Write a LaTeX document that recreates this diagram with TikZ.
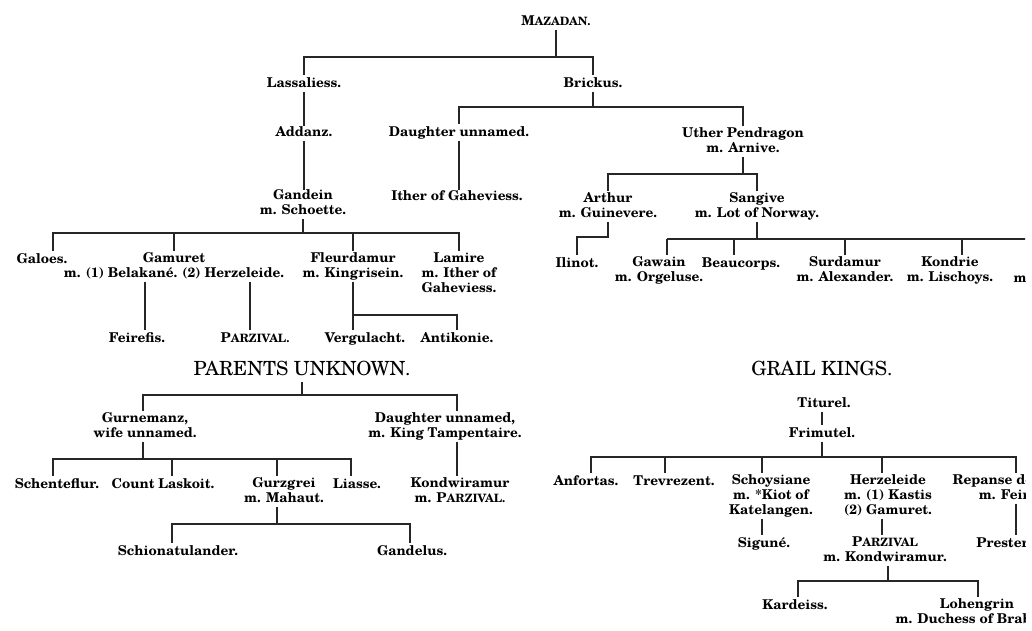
\documentclass[tikz,border=0pt]{standalone}
\usepackage{fontspec}
\setmainfont{texgyreschola}[Extension=.otf,UprightFont=*-regular,BoldFont=*-bold,ItalicFont=*-italic,BoldItalicFont=*-bolditalic]
\newcommand\pnf{\fontsize{13.5}{15}\selectfont\bfseries}
\newcommand\hdf{\fontsize{19.5}{21}\selectfont}
\newcommand\fsc[2]{#1{\fontsize{11.5}{12}\selectfont #2}}
\tikzset{
 pn/.style={font=\pnf, align=center, inner sep=0pt, outer sep=0pt, anchor=north, yshift=10.5pt,
   execute at begin node=\strut, execute at end node=\strut},
 hd/.style={font=\hdf, inner sep=0pt, outer sep=0pt, anchor=base},
 ln/.style={line width=1.1pt, draw=black!85},
 br/.style={ln, shorten <=2pt, shorten >=2pt},
 up/.style={ln, shorten >=2pt}
}
\begin{document}
\begin{tikzpicture}[x=1pt,y=-1pt]
\useasboundingbox (0,0) rectangle (1032,630);
\begin{scope}
\clip (0,0) rectangle (1025,630);
% ---------- top tree
\node[pn] (maz) at (556,25) {\fsc{M}{AZADAN.}};
\node[pn] (las) at (304,87) {Lassaliess.};
\node[pn] (bri) at (593,87) {Brickus.};
\node[pn] (add) at (304,136) {Addanz.};
\node[pn] (dau1) at (459,136) {Daughter unnamed.};
\node[pn] (uth) at (743,138) {Uther Pendragon\\m. Arnive.};
\node[pn] (gan) at (303,200) {Gandein\\m. Schoette.};
\node[pn] (ith) at (457,200) {Ither of Gaheviess.};
\node[pn] (art) at (608,203) {Arthur\\m. Guinevere.};
\node[pn] (san) at (757,203) {Sangive\\m. Lot of Norway.};
% Gandein's children
\node[pn] (gal) at (42,263) {Galoes.};
\node[pn] (gam) at (174,263) {Gamuret\\m. (1) Belakané. (2) Herzeleide.};
\node[pn] (fle) at (353,263) {Fleurdamur\\m. Kingrisein.};
\node[pn] (lam) at (459,263) {Lamire\\m. Ither of\\Gaheviess.};
\node[pn] (fei) at (137,342) {Feirefis.};
\node[pn] (par1) at (255,342) {\fsc{P}{ARZIVAL.}};
\node[pn] (ver) at (365,342) {Vergulacht.};
\node[pn] (ant) at (457,342) {Antikonie.};
% Arthur / Sangive children
\node[pn] (ili) at (577,267) {Ilinot.};
\node[pn] (gaw) at (659,267) {Gawain\\m. Orgeluse.};
\node[pn] (bea) at (741,267) {Beaucorps.};
\node[pn] (sur) at (845,267) {Surdamur\\m. Alexander.};
\node[pn] (kdr) at (950,267) {Kondrie\\m. Lischoys.};
\node[pn] (ito) at (1022,282) {m.};
\coordinate (sanE) at (1040,239);
% ---------- parents unknown
\node[hd] (pu) at (302,375) {PARENTS UNKNOWN.};
\node[pn] (gur) at (145,423) {Gurnemanz,\\wife unnamed.};
\node[pn] (dau2) at (445,423) {Daughter unnamed,\\m. King Tampentaire.};
\node[pn] (sch) at (57,488) {Schenteflur.};
\node[pn] (cou) at (163,488) {Count Laskoit.};
\node[pn] (gzg) at (284,488) {Gurzgrei\\m. Mahaut.};
\node[pn] (lia) at (357,488) {Liasse.};
\node[pn] (kon) at (460,488) {Kondwiramur\\m. \fsc{P}{ARZIVAL.}};
\node[pn] (sio) at (178,555) {Schionatulander.};
\node[pn] (gad) at (412,555) {Gandelus.};
% ---------- grail kings
\node[hd] (gk) at (822,375) {GRAIL KINGS.};
\node[pn] (tit) at (824,407) {Titurel.};
\node[pn] (fri) at (822,437) {Frimutel.};
\node[pn] (anf) at (586,485) {Anfortas.};
\node[pn] (tre) at (674,485) {Trevrezent.};
\node[pn] (sco) at (771,485) {Schoysiane\\m. *Kiot of\\Katelangen.};
\node[pn] (her) at (888,485) {Herzeleide\\m. (1) Kastis\\(2) Gamuret.};
\node[pn] (rep) at (1018,485) {Repanse de Schoie\\m. Feirefis.};
\node[pn] (sig) at (764,547) {Siguné.};
\node[pn] (par2) at (885,547) {\fsc{P}{ARZIVAL}\\m. Kondwiramur.};
\node[pn] (pre) at (1024,547) {Prester John.};
\node[pn] (kar) at (795,609) {Kardeiss.};
\node[pn] (loh) at (977,609) {Lohengrin\\m. Duchess of Brabant.};
% ---------- connectors
\coordinate (y1) at (0,57);
\coordinate (y2) at (0,107);
\coordinate (y3) at (0,174);
\coordinate (y4) at (0,233);
\coordinate (y5) at (0,315);
\coordinate (y6) at (0,395);
\coordinate (y7) at (0,459);
\coordinate (y8) at (0,524);
\coordinate (y9) at (0,237);
\coordinate (y10) at (0,239);
\coordinate (y11) at (0,457);
\coordinate (y12) at (0,581);
% Mazadan
\draw[ln] (maz.south) -- (maz.south |- y1);
\draw[br] (las.north) -- (las.north |- y1) -- (bri.north |- y1) -- (bri.north);
\draw[ln] (las.south) -- (las.south |- add.north);
\draw[ln] (add.south) -- (add.south |- gan.north);
% Brickus
\draw[ln] (bri.south) -- (bri.south |- y2);
\draw[br] (dau1.north) -- (dau1.north |- y2) -- (uth.north |- y2) -- (uth.north);
\draw[ln] (dau1.south) -- (dau1.south |- ith.north);
% Uther
\draw[ln] (uth.south) -- (uth.south |- y3);
\draw[br] (art.north) -- (art.north |- y3) -- (san.north |- y3) -- (san.north);
% Gandein
\draw[ln] (gan.south) -- (gan.south |- y4);
\draw[br] ([xshift=11pt]gal.north) -- ([xshift=11pt]gal.north |- y4) -- (lam.north |- y4) -- (lam.north);
\draw[up] (gam.north |- y4) -- (gam.north);
\draw[up] (fle.north |- y4) -- (fle.north);
\draw[up] ([xshift=-29pt]gam.south) -- ([xshift=-29pt]gam.south |- fei.north);
\draw[up] ([xshift=76pt]gam.south) -- ([xshift=76pt]gam.south |- par1.north);
\draw[up] (fle.south) -- (fle.south |- y5) -- (ant.north |- y5) -- (ant.north);
\draw[up] (fle.south |- y5) -- (fle.south |- ver.north);
% Arthur, Sangive
\draw[up] (art.south) -- (art.south |- y9) -- (ili.north |- y9) -- (ili.north);
\draw[ln] (san.south) -- (san.south |- y10);
\draw[ln] ([xshift=8pt]gaw.north |- y10) -- (sanE);
\draw[up] ([xshift=8pt]gaw.north |- y10) -- ([xshift=8pt]gaw.north);
\draw[up] ([xshift=-7pt]bea.north |- y10) -- ([xshift=-7pt]bea.north);
\draw[up] (sur.north |- y10) -- (sur.north);
\draw[up] ([xshift=12pt]kdr.north |- y10) -- ([xshift=12pt]kdr.north);
% Parents unknown
\draw[ln, shorten <=7pt] (pu.south) -- (pu.south |- y6);
\draw[br] ([xshift=-2pt]gur.north) -- ([xshift=-2pt]gur.north |- y6) -- ([xshift=12pt]dau2.north |- y6) -- ([xshift=12pt]dau2.north);
\draw[ln] ([xshift=-2pt]gur.south) -- ([xshift=-2pt]gur.south |- y7);
\draw[br] ([xshift=-4pt]sch.north) -- ([xshift=-4pt]sch.north |- y7) -- ([xshift=-6pt]lia.north |- y7) -- ([xshift=-6pt]lia.north);
\draw[up] ([xshift=9pt]cou.north |- y7) -- ([xshift=9pt]cou.north);
\draw[up] ([xshift=-7pt]gzg.north |- y7) -- ([xshift=-7pt]gzg.north);
\draw[up] ([xshift=12pt]dau2.south) -- ([xshift=12pt]dau2.south |- kon.north);
\draw[ln] ([xshift=-7pt]gzg.south) -- ([xshift=-7pt]gzg.south |- y8);
\draw[br] ([xshift=-6pt]sio.north) -- ([xshift=-6pt]sio.north |- y8) -- ([xshift=-2pt]gad.north |- y8) -- ([xshift=-2pt]gad.north);
% Grail kings
\draw[up] ([xshift=-2pt]tit.south) -- ([xshift=-2pt]tit.south |- fri.north);
\draw[ln] (fri.south) -- (fri.south |- y11);
\draw[br] ([xshift=5pt]anf.north) -- ([xshift=5pt]anf.north |- y11) -- ([xshift=-2pt]rep.north |- y11) -- ([xshift=-2pt]rep.north);
\draw[up] ([xshift=-9pt]tre.north |- y11) -- ([xshift=-9pt]tre.north);
\draw[up] ([xshift=-9pt]sco.north |- y11) -- ([xshift=-9pt]sco.north);
\draw[up] ([xshift=-6pt]her.north |- y11) -- ([xshift=-6pt]her.north);
\draw[up] ([xshift=-9pt]sco.south) -- ([xshift=-9pt]sco.south |- sig.north);
\draw[up] ([xshift=-6pt]her.south) -- ([xshift=-6pt]her.south |- par2.north);
\draw[up] ([xshift=-2pt]rep.south) -- ([xshift=-2pt]rep.south |- pre.north);
\draw[ln] ([xshift=3pt]par2.south) -- ([xshift=3pt]par2.south |- y12);
\draw[br] ([xshift=3pt]kar.north) -- ([xshift=3pt]kar.north |- y12) -- ([xshift=1pt]loh.north |- y12) -- ([xshift=1pt]loh.north);
\end{scope}
\end{tikzpicture}
\end{document}
